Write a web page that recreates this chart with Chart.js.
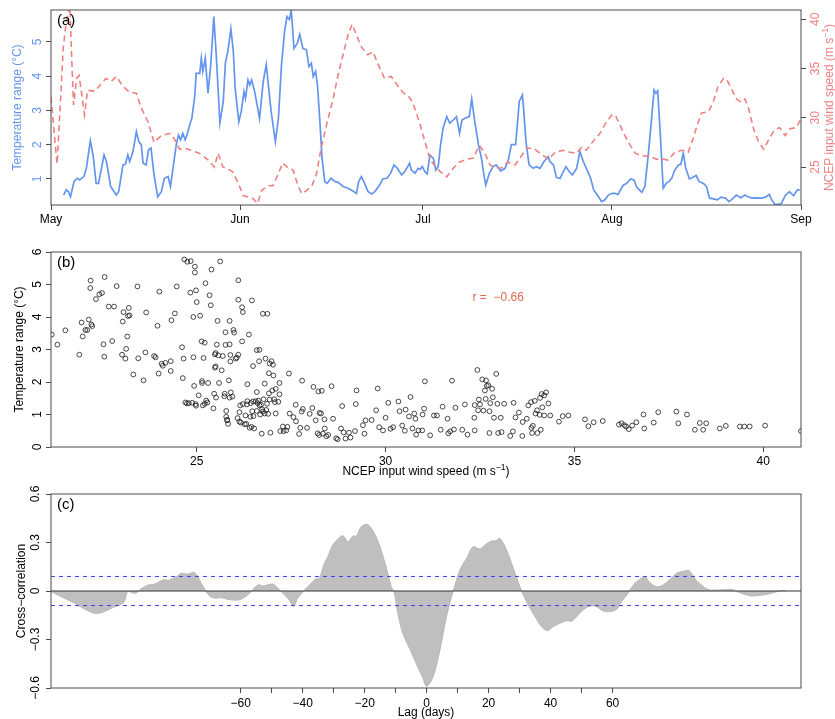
<!DOCTYPE html>
<html>
<head>
<meta charset="utf-8">
<script src="https://cdn.jsdelivr.net/npm/chart.js@4.4.0/dist/chart.umd.min.js"></script>
<style>
  body { margin: 0; background: #fff; }
  canvas { position: absolute; left: 0; }
</style>
</head>
<body>
<canvas id="ts" width="835" height="235" style="top:0px"></canvas>
<canvas id="sc" width="835" height="245" style="top:235px"></canvas>
<canvas id="ccf" width="835" height="239" style="top:480px"></canvas>
<script>
// ---- data ----
const monthNames = ["May", "Jun", "Jul", "Aug", "Sep"];
const monthStart = [0, 31, 61, 92, 123]; // days since 1 May
const tempTicks = [1, 2, 3, 4, 5];
const windTicks = [25, 30, 35, 40];
const rangeTicks = [0, 1, 2, 3, 4, 5, 6];
const speedTicks = [25, 30, 35, 40];
const ccfTicks = [-0.6, -0.3, 0, 0.3, 0.6];
const lagTicks = [-60, -50, -40, -30, -20, -10, 0, 10, 20, 30, 40, 50, 60];
const ciLevel = 0.09;
const rValue = -0.66;

// (a) temperature range, [day, degC]
const tempSeries = [[2.08,0.53],[2.5,0.68],[2.85,0.63],[3.2,0.48],[3.77,0.92],[4.3,1.02],[4.7,0.97],[5.4,1.07],[5.8,1.31],[6.45,2.11],[6.9,1.7],[7.4,0.87],[7.8,0.87],[8.7,1.7],[9.1,1.5],[9.78,0.78],[10.7,0.53],[11.1,0.63],[11.8,1.41],[12.2,1.43],[12.6,1.7],[12.9,1.51],[13.45,1.8],[14.0,2.38],[14.4,2.09],[14.8,2.0],[15.1,1.46],[15.6,1.41],[16.0,1.85],[16.4,1.9],[16.9,1.12],[17.5,0.48],[18.1,0.63],[18.6,1.02],[19.2,1.07],[19.6,0.78],[20.0,1.31],[20.55,2.0],[20.9,2.28],[21.25,2.14],[21.6,2.33],[22.0,2.14],[22.3,2.28],[22.75,2.58],[23.1,2.77],[23.6,3.45],[23.8,4.08],[24.4,4.08],[24.65,4.52],[24.9,4.14],[25.3,4.52],[25.75,3.5],[26.2,4.33],[26.7,5.74],[27.1,4.62],[27.7,2.63],[28.25,3.26],[28.6,4.38],[29.0,4.72],[29.5,5.38],[29.9,4.72],[30.2,3.65],[30.8,2.67],[31.2,2.97],[31.65,3.55],[31.9,3.35],[32.3,3.89],[32.6,3.74],[32.9,3.89],[33.4,3.55],[33.8,3.16],[34.2,2.77],[34.8,3.84],[35.3,4.33],[35.7,3.65],[36.1,2.97],[36.8,2.09],[37.3,2.77],[37.8,4.33],[38.3,5.3],[38.7,5.74],[39.1,5.65],[39.4,5.93],[39.85,4.81],[40.4,4.96],[40.8,5.22],[41.3,4.81],[41.9,4.77],[42.3,4.28],[42.7,4.38],[43.0,3.99],[43.4,4.14],[43.7,3.74],[44.1,2.67],[44.45,1.6],[44.9,0.92],[45.3,0.87],[45.9,1.02],[46.6,0.92],[47.1,0.9],[47.9,0.78],[48.7,0.73],[49.5,0.65],[50.1,0.58],[50.45,0.92],[50.9,1.07],[51.3,0.92],[52.0,0.63],[52.6,0.56],[53.1,0.63],[53.9,0.82],[54.4,1.0],[55.1,1.02],[55.7,1.17],[56.25,1.41],[56.8,1.31],[57.5,1.12],[58.0,1.21],[58.5,1.36],[58.8,1.46],[59.1,1.26],[59.7,1.17],[60.2,1.31],[60.5,1.28],[60.9,1.36],[61.3,1.21],[61.7,1.15],[62.15,1.7],[62.7,1.6],[63.1,1.26],[63.5,1.36],[63.9,2.0],[64.3,2.48],[64.9,2.82],[65.4,2.63],[66.0,2.72],[66.5,2.82],[67.0,2.33],[67.4,2.72],[67.9,2.77],[68.6,2.82],[69.0,3.33],[69.5,2.67],[70.1,2.0],[70.6,1.6],[71.0,1.12],[71.3,0.82],[71.9,1.17],[72.5,1.36],[73.0,1.41],[73.75,1.23],[74.45,1.31],[75.0,1.55],[75.5,2.0],[76.2,2.0],[76.8,3.26],[77.3,3.45],[77.5,3.06],[77.9,2.09],[78.4,1.41],[79.1,1.31],[79.6,1.36],[80.2,1.31],[80.85,1.51],[81.55,1.65],[81.8,1.51],[82.4,1.41],[82.9,1.04],[83.5,1.02],[83.9,1.17],[84.45,1.36],[85.0,1.21],[85.5,1.12],[86.2,1.31],[86.75,1.8],[87.3,1.51],[87.8,1.31],[88.5,1.02],[89.0,0.68],[89.6,0.53],[90.3,0.34],[90.85,0.39],[91.4,0.53],[92.0,0.58],[92.5,0.58],[93.0,0.55],[93.85,0.82],[94.4,0.87],[95.05,1.0],[95.6,0.97],[96.1,0.75],[96.9,0.61],[97.4,0.78],[97.95,1.7],[98.5,2.77],[98.9,3.6],[99.2,3.5],[99.5,3.57],[99.9,2.38],[100.4,0.73],[100.9,0.87],[101.3,0.92],[101.8,1.02],[102.3,1.26],[102.9,1.41],[103.3,1.43],[103.7,1.75],[104.1,1.31],[104.7,1.0],[105.2,1.04],[105.8,1.1],[106.3,0.92],[107.0,0.87],[107.5,0.78],[108.0,0.44],[108.7,0.42],[109.3,0.39],[109.9,0.47],[110.6,0.44],[111.2,0.34],[111.9,0.44],[112.4,0.53],[113.1,0.45],[113.8,0.53],[114.3,0.48],[115.0,0.44],[115.7,0.45],[116.5,0.44],[117.2,0.47],[117.8,0.55],[118.2,0.39],[118.7,0.26],[119.3,0.26],[119.8,0.29],[120.4,0.51],[121.1,0.63],[121.8,0.51],[122.4,0.68],[122.8,0.68]];

// (a) NCEP wind speed, [day, m/s]
const windSeries = [[0,32.1],[0.5,28.6],[1.0,25.3],[1.5,31.0],[2.0,37.0],[2.5,39.8],[3.1,41.3],[3.4,36.0],[3.7,31.3],[4.2,34.0],[4.6,34.3],[5.0,32.6],[5.5,30.3],[6.0,32.8],[7.2,32.7],[8.3,33.5],[9.0,34.0],[9.9,33.7],[10.7,34.2],[11.8,33.2],[12.9,32.6],[14.0,32.5],[14.8,31.0],[15.9,29.6],[16.9,27.5],[18.1,28.2],[19.5,28.4],[20.2,27.9],[21.1,26.8],[21.9,26.9],[23.0,26.7],[24.3,26.4],[25.8,25.7],[26.8,25.0],[27.4,26.4],[28.2,25.0],[29.0,24.8],[29.8,24.5],[30.7,23.4],[31.5,22.1],[33.1,21.8],[33.9,21.3],[34.5,22.6],[35.6,23.1],[36.4,23.1],[37.2,24.2],[38.0,25.4],[38.9,24.9],[39.7,24.7],[40.4,23.3],[41.1,22.3],[41.9,22.6],[42.8,23.1],[43.5,24.2],[44.3,26.9],[45.3,29.6],[46.3,32.0],[47.1,34.4],[47.9,36.4],[48.7,38.4],[49.4,39.5],[50.1,38.4],[50.9,37.2],[51.9,36.4],[52.8,36.7],[53.6,35.5],[54.7,34.0],[55.8,34.2],[56.9,33.2],[57.8,32.5],[58.5,32.3],[59.3,31.6],[60.5,29.4],[61.3,27.6],[62.2,25.7],[63.1,25.0],[63.9,24.5],[64.9,24.0],[66.0,24.9],[67.0,25.5],[68.2,25.8],[69.3,25.9],[70.2,27.2],[71.1,26.5],[72.0,25.2],[72.9,24.9],[73.9,24.9],[74.9,25.5],[76.1,25.2],[76.9,25.9],[78.0,26.9],[79.1,26.9],[80.2,26.4],[81.6,25.8],[82.7,26.5],[84.0,26.7],[85.1,26.5],[86.2,26.4],[87.0,27.0],[87.8,26.7],[88.9,27.6],[90.0,28.4],[91.1,29.6],[92.0,30.3],[92.5,30.3],[93.3,29.3],[94.1,28.2],[95.0,27.2],[95.8,26.4],[96.6,26.2],[97.7,26.1],[98.5,26.0],[99.3,25.8],[100.4,25.8],[101.2,25.7],[102.3,26.5],[103.4,26.7],[104.5,26.5],[105.3,27.9],[106.0,29.3],[106.7,30.5],[107.8,30.6],[108.6,31.6],[109.4,33.2],[110.3,34.0],[110.8,33.9],[111.5,33.1],[112.3,32.0],[113.1,31.6],[113.8,31.9],[114.4,31.0],[115.2,28.9],[116.0,27.6],[116.9,26.8],[117.8,27.9],[118.7,28.8],[119.5,29.0],[120.4,28.2],[121.2,28.9],[122.2,29.0],[123.0,29.9]];

// (b) wind speed vs temperature range, [m/s, degC]
const scatterPts = [[21.16,3.46],[21.31,3.15],[21.52,3.59],[21.89,2.84],[21.95,3.83],[21.98,3.40],[22.05,3.60],[22.10,3.60],[22.14,3.92],[22.18,4.89],[22.19,5.12],[22.21,3.77],[22.23,3.72],[22.33,4.55],[22.42,4.70],[22.49,4.74],[22.53,3.16],[22.55,2.78],[22.56,5.23],[22.67,4.32],[22.76,3.26],[22.81,4.32],[22.88,4.95],[23.02,2.84],[23.04,3.86],[23.06,4.15],[23.11,2.72],[23.13,3.02],[23.16,3.40],[23.18,4.03],[23.20,4.28],[23.22,4.05],[23.32,2.23],[23.43,4.94],[23.45,2.73],[23.59,2.05],[23.64,2.91],[23.66,4.14],[23.87,2.80],[23.91,2.76],[23.96,3.73],[23.99,2.26],[24.01,4.78],[24.07,2.56],[24.10,2.50],[24.17,2.59],[24.31,2.64],[24.31,2.34],[24.33,3.90],[24.42,4.11],[24.47,4.94],[24.61,3.07],[24.63,2.12],[24.65,2.72],[24.67,5.77],[24.70,1.37],[24.74,1.34],[24.75,5.70],[24.79,1.35],[24.83,4.75],[24.84,5.72],[24.88,1.36],[24.91,4.00],[24.91,2.76],[24.93,1.88],[24.95,5.55],[24.95,5.37],[24.97,1.32],[24.98,1.27],[24.98,4.82],[25.00,4.46],[25.05,1.59],[25.09,4.04],[25.13,3.25],[25.14,1.97],[25.14,2.03],[25.16,1.28],[25.18,2.74],[25.21,3.21],[25.21,1.33],[25.23,5.04],[25.25,1.43],[25.28,1.37],[25.30,1.97],[25.34,4.67],[25.37,4.36],[25.39,5.46],[25.44,1.19],[25.46,1.64],[25.48,2.44],[25.48,2.85],[25.50,2.89],[25.50,2.48],[25.51,1.52],[25.53,3.15],[25.55,3.88],[25.57,2.82],[25.59,1.97],[25.62,5.71],[25.66,2.36],[25.69,2.80],[25.73,1.56],[25.74,1.64],[25.76,3.53],[25.76,3.14],[25.78,1.11],[25.78,0.93],[25.80,0.82],[25.81,0.84],[25.83,0.71],[25.85,2.05],[25.87,3.88],[25.87,3.16],[25.87,1.52],[25.89,2.63],[25.89,2.83],[25.90,1.68],[25.94,1.55],[25.97,3.60],[25.99,3.52],[26.03,2.72],[26.06,2.75],[26.08,0.89],[26.10,5.13],[26.10,2.84],[26.10,4.53],[26.13,0.78],[26.13,1.07],[26.15,1.28],[26.17,0.75],[26.20,4.30],[26.20,3.25],[26.22,1.32],[26.22,4.15],[26.27,0.70],[26.29,0.97],[26.31,0.71],[26.33,1.31],[26.34,1.41],[26.34,1.93],[26.46,4.51],[26.38,3.46],[26.40,0.59],[26.42,0.93],[26.43,1.35],[26.45,0.62],[26.47,1.10],[26.49,2.49],[26.49,1.40],[26.50,0.95],[26.52,0.57],[26.56,1.41],[26.59,1.11],[26.59,1.69],[26.59,2.98],[26.61,1.35],[26.63,1.43],[26.65,2.64],[26.66,2.99],[26.66,1.28],[26.68,1.00],[26.70,1.30],[26.72,0.41],[26.73,1.16],[26.75,4.10],[26.75,1.09],[26.77,1.47],[26.80,1.95],[26.80,1.03],[26.82,2.72],[26.84,1.14],[26.86,1.33],[26.87,4.10],[26.89,1.02],[26.91,1.65],[26.91,2.27],[26.93,2.57],[26.93,1.46],[26.95,0.44],[26.98,2.64],[27.00,1.74],[27.02,2.53],[27.03,2.20],[27.05,1.47],[27.07,1.38],[27.09,1.03],[27.09,1.79],[27.16,1.39],[27.19,1.97],[27.19,1.62],[27.21,0.49],[27.28,0.63],[27.30,0.49],[27.37,0.51],[27.40,0.62],[27.44,2.26],[27.46,1.03],[27.62,1.30],[27.63,0.79],[27.56,0.92],[27.71,0.40],[27.74,0.59],[27.78,1.09],[27.79,2.04],[27.81,1.17],[27.92,0.59],[27.99,1.02],[28.06,1.20],[28.09,1.85],[28.15,0.82],[28.20,0.42],[28.22,1.71],[28.24,0.37],[28.25,1.05],[28.29,1.03],[28.31,1.73],[28.34,0.41],[28.38,0.85],[28.39,0.57],[28.43,0.33],[28.48,0.37],[28.57,1.87],[28.61,0.87],[28.69,0.27],[28.73,0.24],[28.82,0.57],[28.85,1.26],[28.89,0.45],[28.94,0.26],[29.03,0.44],[29.07,0.29],[29.19,0.49],[29.21,1.32],[29.23,1.74],[29.40,0.67],[29.44,0.41],[29.47,0.82],[29.63,0.83],[29.75,1.13],[29.79,1.80],[29.83,0.61],[29.93,0.51],[30.00,0.90],[30.07,1.36],[30.13,0.56],[30.20,0.61],[30.34,1.40],[30.37,1.10],[30.44,0.66],[30.51,0.50],[30.53,1.15],[30.66,1.54],[30.62,0.94],[30.71,0.57],[30.76,1.03],[30.81,0.38],[30.87,0.51],[30.79,0.87],[30.97,0.51],[30.98,1.00],[31.02,1.18],[31.04,2.02],[31.18,0.36],[31.28,0.97],[31.36,0.97],[31.46,0.53],[31.51,1.24],[31.64,0.87],[31.66,0.42],[31.71,0.48],[31.76,2.04],[31.81,0.54],[31.85,1.21],[32.03,0.53],[32.10,1.31],[32.17,0.38],[32.35,0.90],[32.36,1.29],[32.36,0.51],[32.43,2.37],[32.45,1.13],[32.47,1.46],[32.50,1.31],[32.56,2.08],[32.59,1.12],[32.63,1.74],[32.65,1.48],[32.66,2.05],[32.68,1.88],[32.72,1.90],[32.75,1.10],[32.75,0.43],[32.77,1.35],[32.82,1.79],[32.84,1.53],[32.87,0.90],[32.93,2.25],[32.96,1.33],[32.98,0.43],[33.05,0.90],[33.07,0.46],[33.14,1.33],[33.30,0.34],[33.37,0.48],[33.39,1.36],[33.44,0.91],[33.53,1.06],[33.62,0.34],[33.63,0.77],[33.74,0.87],[33.78,1.28],[33.85,1.38],[33.86,0.59],[33.88,0.43],[33.90,0.65],[33.95,1.42],[33.97,1.03],[34.01,1.13],[34.02,0.43],[34.08,0.99],[34.09,1.51],[34.11,0.53],[34.13,1.63],[34.15,1.22],[34.20,0.97],[34.20,1.59],[34.25,1.68],[34.31,1.34],[34.36,0.97],[34.59,0.78],[34.69,0.95],[34.84,0.97],[35.28,0.85],[35.37,0.64],[35.51,0.76],[35.75,0.80],[36.18,0.69],[36.25,0.73],[36.32,0.67],[36.37,0.63],[36.44,0.55],[36.53,0.66],[36.64,0.76],[36.83,1.00],[36.85,0.57],[37.10,0.75],[37.22,1.07],[37.70,1.09],[37.75,0.73],[37.98,1.00],[38.19,0.53],[38.32,0.74],[38.41,0.53],[38.49,0.73],[38.85,0.57],[39.01,0.65],[39.38,0.63],[39.50,0.63],[39.64,0.63],[40.05,0.66],[41.0,0.49]];

// (c) cross-correlation
const lagDays = [-121.1,-117.9,-113.6,-110.4,-107.1,-105.0,-102.3,-100.2,-98.0,-97.3,-96.4,-94.0,-92.1,-89.9,-87.8,-85.1,-83.0,-80.8,-79.2,-77.0,-74.9,-72.7,-70.0,-67.9,-66.3,-64.1,-60.9,-59.3,-57.1,-54.5,-52.5,-50.4,-49.1,-46.9,-44.8,-42.9,-41.6,-39.4,-37.3,-35.6,-34.6,-33.2,-31.9,-30.3,-28.7,-27.0,-25.4,-23.8,-22.7,-21.1,-19.5,-18.4,-16.3,-14.7,-13.1,-11.4,-10.4,-9.3,-7.7,-5.5,-3.4,-1.2,0,2.1,4.3,6.4,8.6,10.7,12.9,15.0,17.2,18.8,21.0,22.4,23.6,25.8,28.0,30.1,32.2,35.0,37.1,39.0,40.8,43.0,45.2,46.8,48.4,50.5,52.7,54.8,57.0,59.1,61.3,62.9,65.0,66.7,68.8,70.4,72.0,74.2,76.3,78.5,80.6,82.8,84.7,86.5,88.7,90.8,93.0,95.7,98.4,100.5,102.7,104.8,107.5,110.2,112.4,114.5,116.1];
const ccfValues = [-0.004,-0.035,-0.076,-0.111,-0.138,-0.134,-0.113,-0.093,-0.076,-0.056,-0.004,-0.014,0.014,0.037,0.043,0.068,0.068,0.089,0.109,0.105,0.115,0.047,-0.031,-0.045,-0.041,-0.052,-0.056,-0.045,-0.014,0.037,0.031,0.043,0.037,-0.004,-0.045,-0.093,-0.045,0.006,0.047,0.078,0.078,0.161,0.212,0.285,0.320,0.342,0.305,0.340,0.340,0.398,0.412,0.402,0.336,0.254,0.151,0.027,-0.014,-0.138,-0.262,-0.355,-0.447,-0.540,-0.590,-0.530,-0.365,-0.159,0,0.130,0.202,0.274,0.260,0.285,0.309,0.311,0.326,0.254,0.140,0.027,-0.066,-0.159,-0.221,-0.245,-0.221,-0.200,-0.184,-0.186,-0.159,-0.118,-0.093,-0.097,-0.124,-0.128,-0.113,-0.066,-0.014,0.037,0.072,0.089,0.052,0.027,0.037,0.072,0.109,0.122,0.126,0.078,0.037,0.010,0.006,0.008,0.010,-0.006,-0.021,-0.031,-0.027,-0.019,-0.008,0.002,0];

// ---- styling ----
const FONT = "'Liberation Sans', Arial, Helvetica, sans-serif";
const BLUE = "#6495ED";
const SALMON = "#F08080";
const BOX = "#4a4a4a";
Chart.defaults.font.family = FONT;
Chart.defaults.font.size = 12;
Chart.defaults.color = "#000";

const minus = v => (v < 0 ? "\u2212" + Math.abs(v) : String(v));

// text helpers (rotated tick labels / titles like base R)
function richText(ctx, parts, x, y, angle, size, color) {
  ctx.save();
  ctx.translate(x, y);
  ctx.rotate(angle);
  ctx.fillStyle = color;
  ctx.textBaseline = "middle";
  ctx.textAlign = "left";
  let w = 0;
  parts.forEach(p => {
    ctx.font = (p.sup ? size * 0.72 : size) + "px " + FONT;
    p.w = ctx.measureText(p.t).width;
    w += p.w;
  });
  let cx = -w / 2;
  parts.forEach(p => {
    ctx.font = (p.sup ? size * 0.72 : size) + "px " + FONT;
    ctx.fillText(p.t, cx, p.sup ? -size * 0.38 : 0);
    cx += p.w;
  });
  ctx.restore();
}
const up = -Math.PI / 2;
function vLabel(ctx, txt, x, y, color) { richText(ctx, [{ t: txt }], x, y, up, 12, color); }

function drawBox(chart) {
  const ctx = chart.ctx, a = chart.chartArea;
  ctx.save();
  ctx.strokeStyle = BOX;
  ctx.lineWidth = 1;
  ctx.strokeRect(a.left, a.top, a.right - a.left, a.bottom - a.top);
  ctx.restore();
}
function panelTag(chart, tag) {
  const ctx = chart.ctx, a = chart.chartArea;
  ctx.save();
  ctx.font = "15px " + FONT;
  ctx.fillStyle = "#000";
  ctx.textBaseline = "middle";
  ctx.fillText(tag, a.left + 6, a.top + 11);
  ctx.restore();
}

const fixTicks = list => scale => { scale.ticks = list.map(v => ({ value: v })); };
const markGrid = { drawOnChartArea: false, tickLength: 5, color: BOX };

// ---- (a) time series ----
const panelA = {
  id: "panelA",
  afterDraw(chart) {
    const ctx = chart.ctx, a = chart.chartArea, mid = (a.top + a.bottom) / 2;
    drawBox(chart);
    tempTicks.forEach(v => vLabel(ctx, String(v), a.left - 13, chart.scales.y.getPixelForValue(v), BLUE));
    windTicks.forEach(v => vLabel(ctx, String(v), a.right + 15, chart.scales.y1.getPixelForValue(v), SALMON));
    richText(ctx, [{ t: "Temperature range (\u00B0C)" }], 18, mid, up, 12, BLUE);
    richText(ctx, [{ t: "NCEP input wind speed (m s" }, { t: "\u22121", sup: true }, { t: ")" }], 830, mid, up, 12, SALMON);
    panelTag(chart, "(a)");
  }
};

new Chart(document.getElementById("ts"), {
  type: "line",
  data: {
    datasets: [
      {
        data: windSeries.map(p => ({ x: p[0], y: p[1] })),
        yAxisID: "y1", borderColor: SALMON, borderWidth: 1.6, borderDash: [6, 4],
        pointRadius: 0, order: 0
      },
      {
        data: tempSeries.map(p => ({ x: p[0], y: p[1] })),
        yAxisID: "y", borderColor: BLUE, borderWidth: 1.7,
        pointRadius: 0, order: 1
      }
    ]
  },
  options: {
    responsive: false, animation: false,
    layout: { padding: { top: 10, left: 0, right: 0, bottom: 0 } },
    plugins: { legend: { display: false }, tooltip: { enabled: false } },
    scales: {
      x: {
        type: "linear", min: 0, max: 123, bounds: "data",
        afterBuildTicks: fixTicks(monthStart),
        ticks: { autoSkip: false, maxRotation: 0, padding: 2, callback: v => monthNames[monthStart.indexOf(v)] },
        grid: markGrid, border: { display: false },
        afterFit: s => { s.height = 30; }
      },
      y: {
        position: "left", min: 0.24, max: 5.93, bounds: "data",
        afterBuildTicks: fixTicks(tempTicks),
        ticks: { display: false }, grid: markGrid, border: { display: false },
        afterFit: s => { s.width = 51; }
      },
      y1: {
        position: "right", min: 21.14, max: 40.95, bounds: "data",
        afterBuildTicks: fixTicks(windTicks),
        ticks: { display: false }, grid: markGrid, border: { display: false },
        afterFit: s => { s.width = 34; }
      }
    }
  },
  plugins: [panelA]
});

// ---- (b) scatter ----
const panelB = {
  id: "panelB",
  afterDraw(chart) {
    const ctx = chart.ctx, a = chart.chartArea, sx = chart.scales.x, sy = chart.scales.y;
    drawBox(chart);
    rangeTicks.forEach(v => vLabel(ctx, String(v), a.left - 13, sy.getPixelForValue(v), "#000"));
    richText(ctx, [{ t: "Temperature range (\u00B0C)" }], 20, (a.top + a.bottom) / 2, up, 12, "#000");
    richText(ctx, [{ t: "NCEP input wind speed (m s" }, { t: "\u22121", sup: true }, { t: ")" }],
      (a.left + a.right) / 2, a.bottom + 25, 0, 12, "#000");
    ctx.save();
    ctx.font = "12px " + FONT;
    ctx.fillStyle = "#E0694F";
    ctx.textBaseline = "middle";
    ctx.fillText("r =  " + minus(rValue), sx.getPixelForValue(32.3), sy.getPixelForValue(4.6));
    ctx.restore();
    panelTag(chart, "(b)");
  }
};

new Chart(document.getElementById("sc"), {
  type: "scatter",
  data: {
    datasets: [{
      data: scatterPts.map(p => ({ x: p[0], y: p[1] })),
      pointRadius: 2.4, pointBorderWidth: 0.8,
      borderColor: "#1a1a1a", backgroundColor: "rgba(0,0,0,0)", clip: 0
    }]
  },
  options: {
    responsive: false, animation: false,
    layout: { padding: { top: 17, left: 0, right: 34, bottom: 0 } },
    plugins: { legend: { display: false }, tooltip: { enabled: false } },
    scales: {
      x: {
        type: "linear", min: 21.14, max: 41.0, bounds: "data",
        afterBuildTicks: fixTicks(speedTicks),
        ticks: { autoSkip: false, maxRotation: 0, padding: 2 },
        grid: markGrid, border: { display: false },
        afterFit: s => { s.height = 33; }
      },
      y: {
        min: 0, max: 6, bounds: "data",
        afterBuildTicks: fixTicks(rangeTicks),
        ticks: { display: false }, grid: markGrid, border: { display: false },
        afterFit: s => { s.width = 51; }
      }
    }
  },
  plugins: [panelB]
});

// ---- (c) cross-correlation ----
const lagMin = -121.2, lagMax = 120.8;
const panelC = {
  id: "panelC",
  afterDraw(chart) {
    const ctx = chart.ctx, a = chart.chartArea;
    drawBox(chart);
    ccfTicks.forEach(v => vLabel(ctx, minus(v), a.left - 15, chart.scales.y.getPixelForValue(v), "#000"));
    richText(ctx, [{ t: "Cross\u2212correlation" }], 22, (a.top + a.bottom) / 2, up, 12, "#000");
    richText(ctx, [{ t: "Lag (days)" }], (a.left + a.right) / 2, a.bottom + 25, 0, 12, "#000");
    panelTag(chart, "(c)");
  }
};

const flat = v => [{ x: lagMin, y: v }, { x: lagMax, y: v }];
new Chart(document.getElementById("ccf"), {
  type: "line",
  data: {
    datasets: [
      { data: flat(0), borderColor: "#333", borderWidth: 1, pointRadius: 0, order: 0 },
      { data: flat(ciLevel), borderColor: "#3a3aff", borderWidth: 1, borderDash: [4, 4], pointRadius: 0, order: 0 },
      { data: flat(-ciLevel), borderColor: "#3a3aff", borderWidth: 1, borderDash: [4, 4], pointRadius: 0, order: 0 },
      {
        data: lagDays.map((d, i) => ({ x: d, y: ccfValues[i] })),
        borderColor: "#b8b8b8", backgroundColor: "#bfbfbf", borderWidth: 1,
        fill: "origin", tension: 0.35, pointRadius: 0, order: 5
      }
    ]
  },
  options: {
    responsive: false, animation: false,
    layout: { padding: { top: 14, left: 0, right: 34, bottom: 0 } },
    plugins: { legend: { display: false }, tooltip: { enabled: false } },
    scales: {
      x: {
        type: "linear", min: lagMin, max: lagMax, bounds: "data",
        afterBuildTicks: fixTicks(lagTicks),
        ticks: { autoSkip: false, maxRotation: 0, padding: 3, callback: v => (v % 20 === 0 ? minus(v) : "") },
        grid: markGrid, border: { display: false },
        afterFit: s => { s.height = 31; }
      },
      y: {
        min: -0.6, max: 0.6, bounds: "data",
        afterBuildTicks: fixTicks(ccfTicks),
        ticks: { display: false }, grid: markGrid, border: { display: false },
        afterFit: s => { s.width = 51; }
      }
    }
  },
  plugins: [panelC]
});
</script>
</body>
</html>
